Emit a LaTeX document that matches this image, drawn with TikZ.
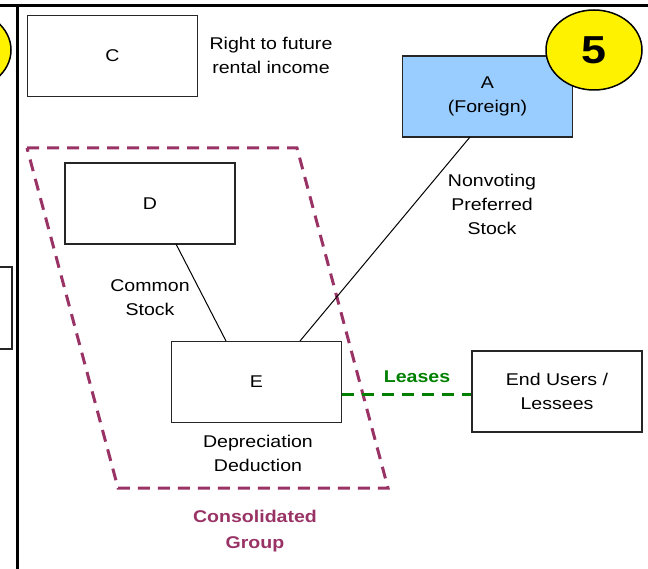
\documentclass[tikz,border=0pt]{standalone}
\usepackage{fontspec}
\setmainfont{Liberation Sans}[FakeStretch=1.15]
\begin{document}
\begin{tikzpicture}[x=1pt,y=-1pt,
  entity/.style={draw=black!85,line width=1.5pt,fill=white,minimum width=170pt,minimum height=81pt,inner sep=0pt,align=center,font=\fontsize{17}{24}\selectfont},
  lbl/.style={align=center,inner sep=0pt,font=\fontsize{17}{24}\selectfont},
  badge/.style={ellipse,draw=black,line width=1.5pt,fill=yellow,minimum width=96pt,minimum height=80pt,inner sep=0pt,font=\bfseries\fontsize{39}{40}\selectfont},
  link/.style={draw=black,line width=1pt},
  lease/.style={draw=green!50!black,line width=3pt,dash pattern=on 12pt off 8pt},
  group/.style={draw=groupc,line width=3pt,dash pattern=on 12pt off 8pt},
  frame/.style={draw=black,line width=2.8pt}]
\usetikzlibrary{shapes.geometric}
\definecolor{groupc}{HTML}{993366}
\definecolor{foreign}{HTML}{99CCFF}
\useasboundingbox (0,0) rectangle (648,569);

% frame lines
\draw[frame] (0,5.5) -- (648,5.5);
\draw[frame] (17.5,5.5) -- (17.5,569);

% neighbouring panel, cut off at the left
\node[badge,anchor=center] (prevbadge) at (-37,50) {};
\draw[draw=black!85,line width=1.5pt] (-2,267) rectangle (12,349);

% consolidated group outline
\draw[group] (27,148) -- (297,148) -- (388,488) -- (118,488) -- cycle;

% entities
\node[entity] (C) at (112.5,56) {C};
\node[entity,fill=foreign] (A) at (487.5,96.5) {A\\(Foreign)};
\node[entity] (D) at (150,203.5) {D};
\node[entity] (E) at (256.5,382) {E};
\node[entity] (U) at (557,391.5) {End Users /\\Lessees};

% connectors
\draw[link] (176,244) -- (226,341);
\draw[link] (470,137) -- (300,341);
\draw[lease] (E.east |- 0,394) -- (U.west |- 0,394);

% labels
\node[lbl] (rent) at (271,55.5) {Right to future\\rental income};
\node[lbl] (pref) at (492,204) {Nonvoting\\Preferred\\Stock};
\node[lbl] (common) at (150,298) {Common\\Stock};
\node[lbl,font=\bfseries\fontsize{17}{24}\selectfont,text=green!50!black] (leases) at (417,377) {Leases};
\node[lbl] (depr) at (258,453) {Depreciation\\Deduction};
\node[lbl,font=\bfseries\fontsize{17}{26}\selectfont,text=groupc] (grp) at (255,531) {Consolidated\\Group};

% step badge
\node[badge] (five) at (594,50) {5};
\end{tikzpicture}
\end{document}
